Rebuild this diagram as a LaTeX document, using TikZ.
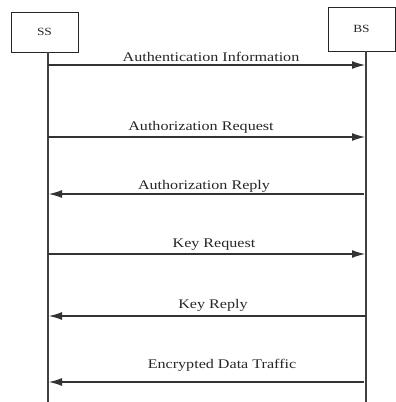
\documentclass[tikz,border=0pt]{standalone}
\usepackage{fontspec}
\setmainfont{Liberation Serif}[FakeStretch=1.22]
\usetikzlibrary{arrows.meta}
\begin{document}
\begin{tikzpicture}[x=1pt,y=-1pt,
  ent/.style={draw=black!85,line width=1pt,inner sep=0pt,minimum width=67pt,font=\fontsize{11}{13}\selectfont,text=black!85},
  life/.style={draw=black!75,line width=1.2pt},
  msg/.style={draw=black!80,line width=1.1pt,-{Latex[length=13pt,width=8pt]}},
  lbl/.style={inner sep=0pt,font=\fontsize{13.2}{15}\selectfont,text=black!85}]
\useasboundingbox (0,0) rectangle (396,402);
\node[ent,minimum height=40pt] (ss) at (44.5,32) {SS};
\node[ent,minimum height=44pt] (bs) at (361.5,29) {BS};
\coordinate (ssb) at (48,402);
\coordinate (bsb) at (366,402);
\draw[life] (48,52) -- (ssb);
\draw[life] (366,51) -- (bsb);
% messages
\coordinate (s1) at (48,65);  \coordinate (b1) at (365,65);
\coordinate (s2) at (48,137); \coordinate (b2) at (365,137);
\coordinate (s3) at (49,194); \coordinate (b3) at (364,194);
\coordinate (s4) at (48,254); \coordinate (b4) at (365,254);
\coordinate (s5) at (49,316); \coordinate (b5) at (366,316);
\coordinate (s6) at (49,382); \coordinate (b6) at (364,382);
\draw[msg] (s1) -- (b1);
\draw[msg] (s2) -- (b2);
\draw[msg] (b3) -- (s3);
\draw[msg] (s4) -- (b4);
\draw[msg] (b5) -- (s5);
\draw[msg] (b6) -- (s6);
\node[lbl] (l1) at (211,57) {Authentication Information};
\node[lbl] (l2) at (201,127) {Authorization Request};
\node[lbl] (l3) at (204,186) {Authorization Reply};
\node[lbl] (l4) at (214,245) {Key Request};
\node[lbl] (l5) at (213,305) {Key Reply};
\node[lbl] (l6) at (222,365) {Encrypted Data Traffic};
\end{tikzpicture}
\end{document}
